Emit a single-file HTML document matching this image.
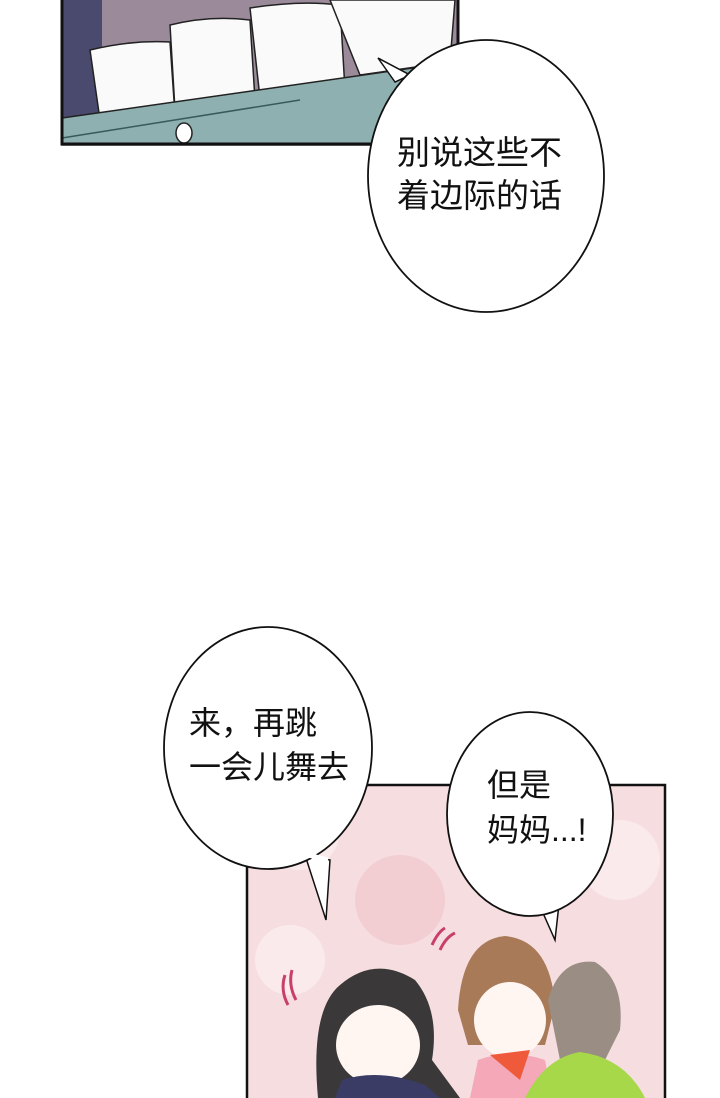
<!DOCTYPE html>
<html><head><meta charset="utf-8"><style>
html,body{margin:0;padding:0;background:#fff;}
svg{display:block}
text{font-family:"Liberation Sans","Noto Sans CJK SC",sans-serif;font-size:32px;fill:#111}
</style></head><body>
<svg width="720" height="1098" viewBox="0 0 720 1098" xmlns="http://www.w3.org/2000/svg">
<!-- top panel -->
<g>
<rect x="62" y="0" width="396" height="145" fill="#9a8a9a"/>
<rect x="62" y="0" width="40" height="145" fill="#4a4a6e"/>
<path d="M90 50 Q130 40 170 42 L175 115 L100 120 Z" fill="#fafafa" stroke="#222" stroke-width="1.5"/>
<path d="M170 25 Q210 15 250 20 L255 100 L175 110 Z" fill="#fafafa" stroke="#222" stroke-width="1.5"/>
<path d="M250 8 Q300 0 340 5 L345 90 L260 98 Z" fill="#fafafa" stroke="#222" stroke-width="1.5"/>
<path d="M330 0 L455 0 L450 62 L360 75 Z" fill="#fafafa" stroke="#222" stroke-width="1.5"/>
<path d="M62 118 L455 62 L458 145 L62 145 Z" fill="#8fb0b0" stroke="#222" stroke-width="1.5"/>
<path d="M62 138 L300 100" stroke="#3a5a5a" stroke-width="1.5"/>
<ellipse cx="184" cy="133" rx="8" ry="10" fill="#fff" stroke="#222" stroke-width="1.5"/>
<rect x="62" y="-2" width="396" height="146" fill="none" stroke="#111" stroke-width="3"/>
</g>
<!-- bubble 1 -->
<path d="M395 82 L378 58 L410 75 Z" fill="#fff" stroke="#111" stroke-width="1.5"/>
<ellipse cx="486" cy="176" rx="118" ry="136" fill="#fff" stroke="#111" stroke-width="1.8"/>
<text x="397" y="164" style="font-size:33px">别说这些不</text>
<text x="397" y="207" style="font-size:33px">着边际的话</text>
<!-- bottom panel -->
<g>
<rect x="247" y="785" width="418" height="313" fill="#f6dde0"/>
<circle cx="300" cy="830" r="40" fill="#fbeaec"/>
<circle cx="400" cy="900" r="45" fill="#f2cdd2"/>
<circle cx="620" cy="860" r="40" fill="#fbeaec"/>
<circle cx="290" cy="960" r="35" fill="#fbeaec"/>
<path d="M318 1098 Q310 1010 340 985 Q375 955 415 980 Q440 1010 432 1060 L460 1098 Z" fill="#3a3838"/>
<ellipse cx="378" cy="1045" rx="42" ry="40" fill="#fff6f2"/>
<path d="M335 1098 L342 1080 Q380 1068 425 1085 L440 1098 Z" fill="#3b3c66"/>
<path d="M458 1010 Q462 940 505 936 Q550 940 555 1005 L545 1045 L468 1045 Z" fill="#a97a58"/>
<ellipse cx="510" cy="1020" rx="36" ry="38" fill="#fff6f2"/>
<path d="M470 1098 L478 1060 Q510 1048 545 1060 L552 1098 Z" fill="#f4a8b8"/>
<path d="M490 1055 L530 1050 L520 1080 Z" fill="#ee5a3a"/>
<path d="M548 1000 Q560 958 595 962 Q625 980 620 1030 L600 1070 L560 1060 Z" fill="#9a8e84"/>
<path d="M525 1098 Q545 1058 580 1052 Q625 1058 645 1098 Z" fill="#a6d84a"/>
<path d="M285 975 Q280 990 288 1005 M292 970 Q288 985 296 1000" stroke="#c8406a" stroke-width="3" fill="none"/>
<path d="M432 945 Q438 932 445 928 M440 950 Q446 937 455 933" stroke="#c8406a" stroke-width="3" fill="none"/>
<rect x="247" y="785" width="418" height="320" fill="none" stroke="#111" stroke-width="2.5"/>
</g>
<!-- bubble 2 -->
<path d="M305 855 L326 920 L330 860 Z" fill="#fff" stroke="#111" stroke-width="1.5"/>
<ellipse cx="268" cy="748" rx="104" ry="121" fill="#fff" stroke="#111" stroke-width="1.8"/>
<path d="M308 855 L328 860" stroke="#fff" stroke-width="5"/>
<text x="189" y="734">来，再跳</text>
<text x="189" y="778">一会儿舞去</text>
<!-- bubble 3 -->
<path d="M535 895 L555 940 L560 895 Z" fill="#fff" stroke="#111" stroke-width="1.5"/>
<ellipse cx="530" cy="814" rx="83" ry="102" fill="#fff" stroke="#111" stroke-width="1.8"/>
<path d="M538 896 L558 896" stroke="#fff" stroke-width="5"/>
<text x="487" y="796">但是</text>
<text x="487" y="841">妈妈...!</text>
</svg>
</body></html>
